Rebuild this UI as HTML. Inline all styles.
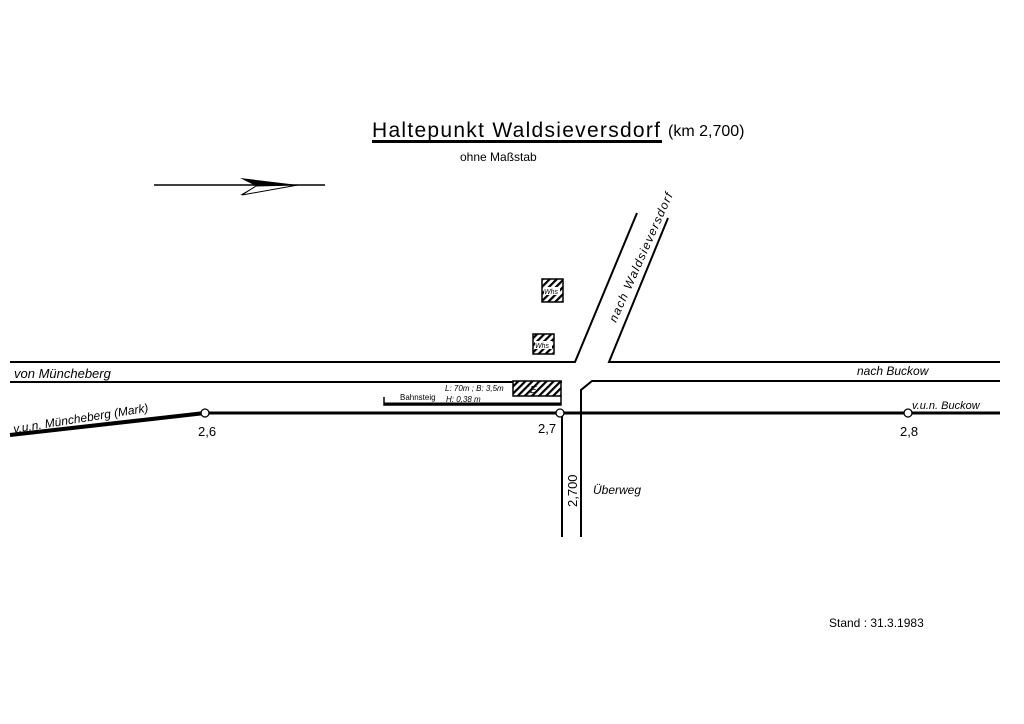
<!DOCTYPE html>
<html><head><meta charset="utf-8"><style>
body{margin:0;background:#fff;width:1024px;height:724px;overflow:hidden}
svg{display:block}
text{font-family:"Liberation Sans",sans-serif;fill:#000}
.it{font-style:italic}
</style></head><body>
<svg width="1024" height="724" viewBox="0 0 1024 724">
<defs>
<pattern id="h" width="5" height="5" patternUnits="userSpaceOnUse" patternTransform="rotate(45)">
<rect width="5" height="5" fill="#fff"/><rect width="2.2" height="5" fill="#000"/></pattern>
</defs>
<text x="372" y="137" font-size="21" textLength="288" lengthAdjust="spacing">Haltepunkt Waldsieversdorf</text>
<text x="668" y="136" font-size="16">(km 2,700)</text>
<rect x="372" y="140" width="290" height="3" fill="#000"/>
<text x="460" y="161" font-size="12">ohne Maßstab</text>
<line x1="154" y1="185" x2="325" y2="185" stroke="#000" stroke-width="1.5"/>
<path d="M240 178 L298 185 L240 195 L256 186 Z" fill="#000"/>
<path d="M256 186 L298 185 L242 195 Z" fill="#fff" stroke="#000" stroke-width="1"/>
<g stroke="#000" stroke-width="2" fill="none">
<polyline points="10,362 575,362 637,213"/>
<polyline points="668,218 609,362 1000,362"/>
<line x1="10" y1="382" x2="562" y2="382"/>
<polyline points="1000,381 592,381 581,390 581,537"/>
<line x1="562" y1="413" x2="562" y2="537"/>
</g>
<line x1="10" y1="435" x2="205" y2="413" stroke="#000" stroke-width="4"/>
<line x1="205" y1="413" x2="1000" y2="413" stroke="#000" stroke-width="3"/>
<g fill="#fff" stroke="#000" stroke-width="1.3">
<circle cx="205" cy="413" r="4"/><circle cx="560" cy="413" r="4"/><circle cx="908" cy="413" r="4"/>
</g>
<rect x="513" y="381" width="48" height="15" fill="url(#h)" stroke="#000" stroke-width="1.5"/>
<text x="530" y="393" font-size="10" class="it">E</text>
<polyline points="384,397 384,405 561,405 561,396" fill="none" stroke="#000" stroke-width="1.5"/>
<line x1="384" y1="404" x2="561" y2="404" stroke="#000" stroke-width="3"/>
<text x="445" y="391" font-size="8" class="it">L: 70m ; B: 3,5m</text>
<text x="400" y="400" font-size="8">Bahnsteig</text>
<text x="446" y="402" font-size="8" class="it">H: 0,38 m</text>
<rect x="542" y="279" width="21" height="23" fill="url(#h)" stroke="#000" stroke-width="1.5"/>
<rect x="544" y="287" width="16" height="8" fill="#fff"/>
<text x="544" y="294" font-size="7" class="it">Whs</text>
<rect x="533" y="334" width="21" height="20" fill="url(#h)" stroke="#000" stroke-width="1.5"/>
<rect x="535" y="341" width="17" height="8" fill="#fff"/>
<text x="535" y="348" font-size="7" class="it">Whs</text>
<text x="14" y="378" font-size="13" class="it">von Müncheberg</text>
<text x="857" y="375" font-size="12" class="it">nach Buckow</text>
<text x="912" y="409" font-size="11" class="it">v.u.n. Buckow</text>
<text transform="translate(14,433) rotate(-9)" font-size="12" class="it">v.u.n. Müncheberg (Mark)</text>
<text x="198" y="436" font-size="13">2,6</text>
<text x="538" y="433" font-size="13">2,7</text>
<text x="900" y="436" font-size="13">2,8</text>
<text transform="translate(577,507) rotate(-90)" font-size="13">2,700</text>
<text x="593" y="494" font-size="12" class="it">Überweg</text>
<text transform="translate(616,323) rotate(-66)" font-size="12" class="it" textLength="140" lengthAdjust="spacing">nach Waldsieversdorf</text>
<text x="829" y="627" font-size="12">Stand :  31.3.1983</text>
</svg>
</body></html>
